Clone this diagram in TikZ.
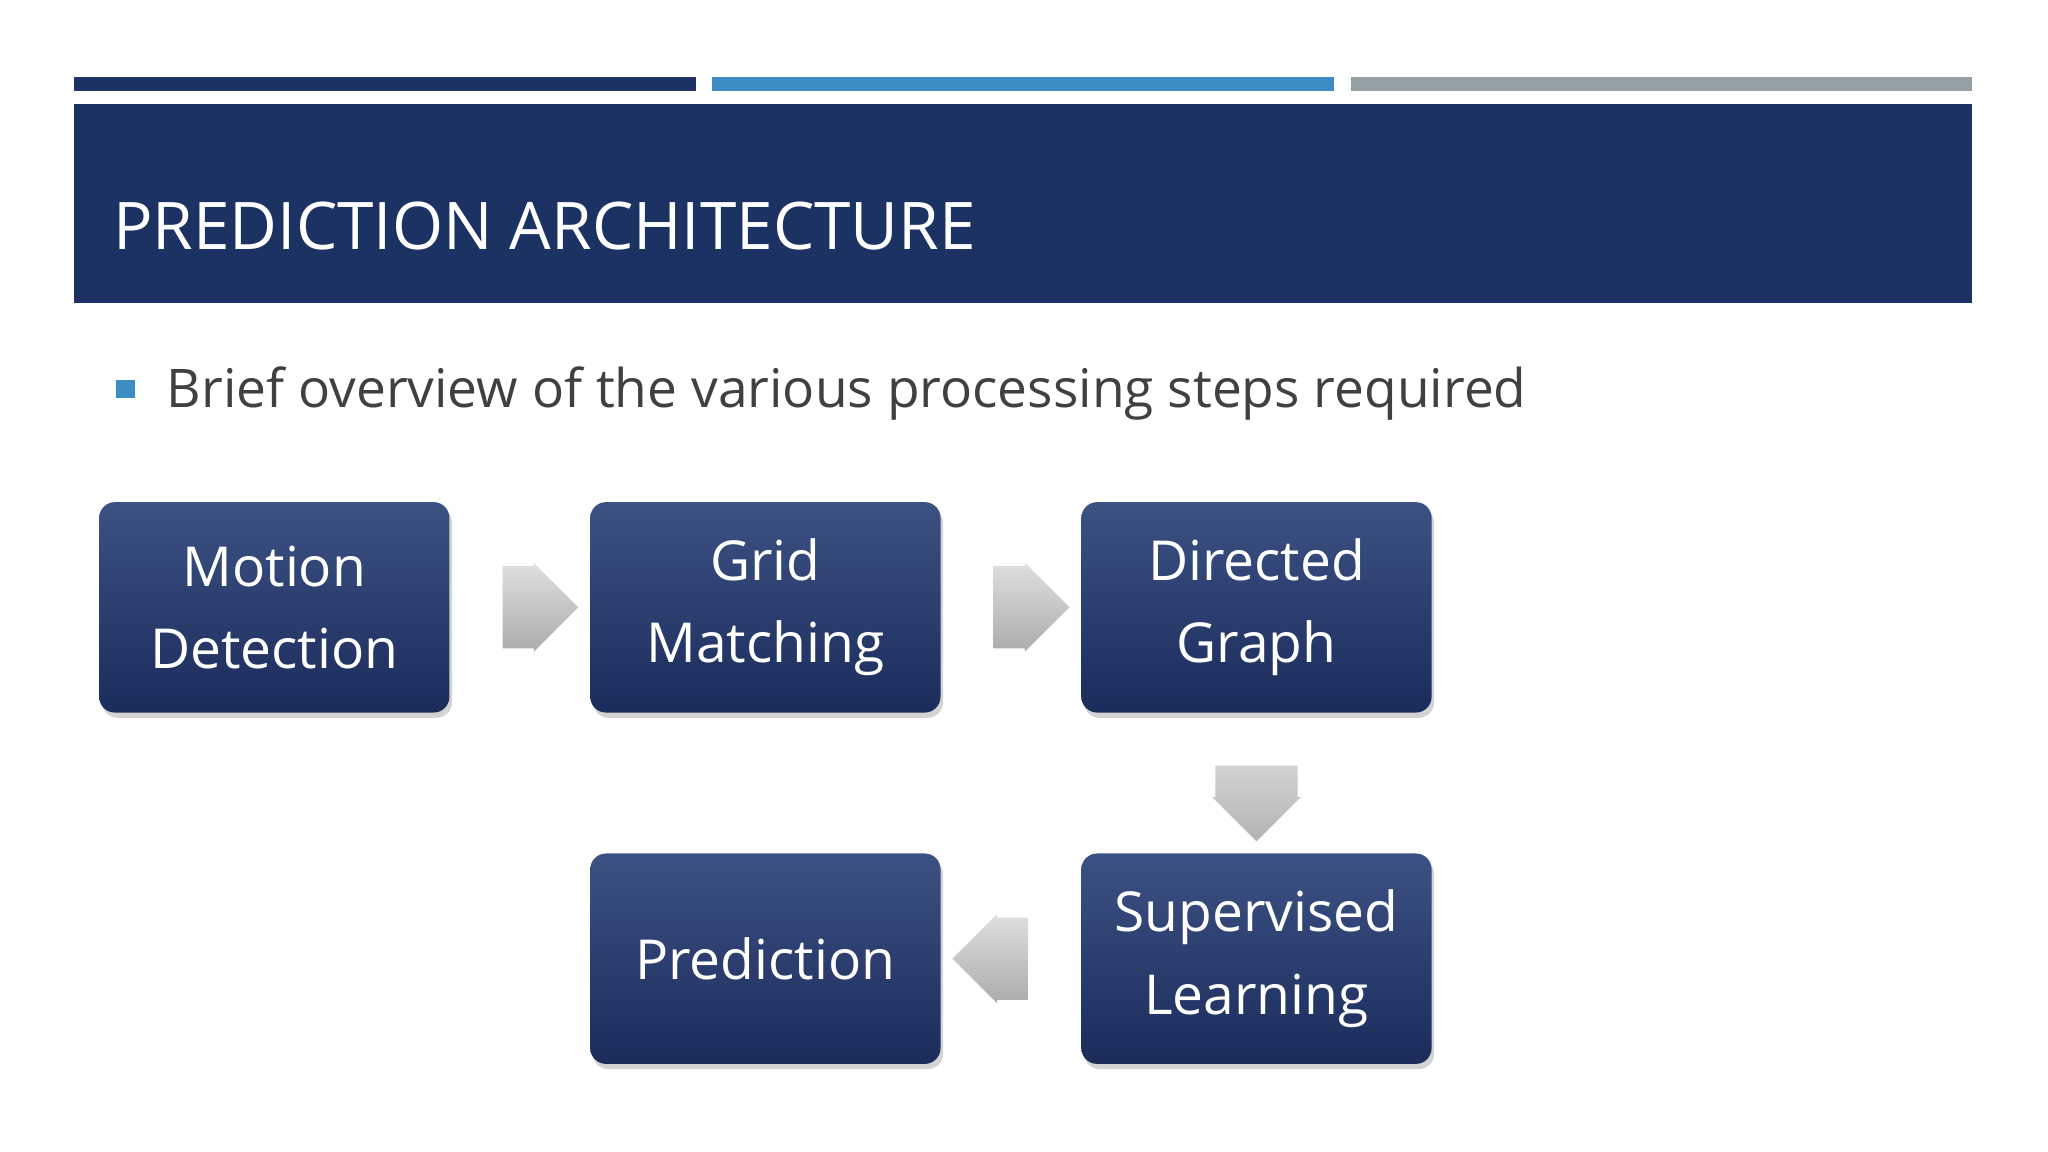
\documentclass[tikz,border=0pt]{standalone}
\usepackage{fontspec}
\setmainfont{Open Sans}
\usetikzlibrary{shapes.arrows,shadows,calc}
\definecolor{navy}{HTML}{1C3263}
\definecolor{bblue}{HTML}{3D8DC4}
\definecolor{bgray}{HTML}{95A0A4}
\definecolor{btop}{HTML}{3C5183}
\definecolor{bbot}{HTML}{1B2C5B}
\tikzset{
  stepbox/.style={rounded corners=0.12cm, minimum width=2.68cm, minimum height=1.61cm,
    top color=btop, bottom color=bbot, draw=none, text=white, align=center,
    font=\fontsize{12}{17.9}\selectfont, drop shadow={shadow xshift=0.02cm, shadow yshift=-0.04cm, opacity=0.35}},
  flow/.style={single arrow, draw=none, minimum height=0.58cm, minimum width=0.68cm,
    single arrow head extend=0.01cm, single arrow tip angle=90,
    top color=gray!25, bottom color=gray!65}
}
\begin{document}
\begin{tikzpicture}[x=0.01cm,y=-0.01cm]
\useasboundingbox (0,0) rectangle (1568,882);
\fill[navy] (57,59) rectangle (533,70);
\fill[bblue] (545,59) rectangle (1021,70);
\fill[bgray] (1034,59) rectangle (1510,70);
\fill[navy] (57,80) rectangle (1510,232);
\node[anchor=base west, text=white, inner sep=0, font=\fontsize{14.3}{16}\selectfont] (title) at (86,191) {PREDICTION ARCHITECTURE};
\fill[bblue] (89,291) rectangle (103,305);
\node[anchor=base west, text=black!75, inner sep=0, font=\fontsize{11.6}{14}\selectfont] (bullet) at (127,312) {Brief overview of the various processing steps required};
\node[stepbox] (md) at (210,465) {Motion\\Detection};
\node[stepbox] (gm) at (586,465) {Grid\\Matching};
\node[stepbox] (dg) at (962,465) {Directed\\Graph};
\node[stepbox] (sl) at (962,734) {Supervised\\Learning};
\node[stepbox] (pr) at (586,734) {Prediction};
\node[flow] (a1) at ($(md.east)!0.5!(gm.west)$) {};
\node[flow] (a2) at ($(gm.east)!0.5!(dg.west)$) {};
\node[flow, shape border rotate=270, top color=gray!35, bottom color=gray!60] (a3) at ($(dg.south)!0.5!(sl.north)$) {};
\node[flow, shape border rotate=180] (a4) at ($(sl.west)!0.5!(pr.east)$) {};
\end{tikzpicture}
\end{document}
